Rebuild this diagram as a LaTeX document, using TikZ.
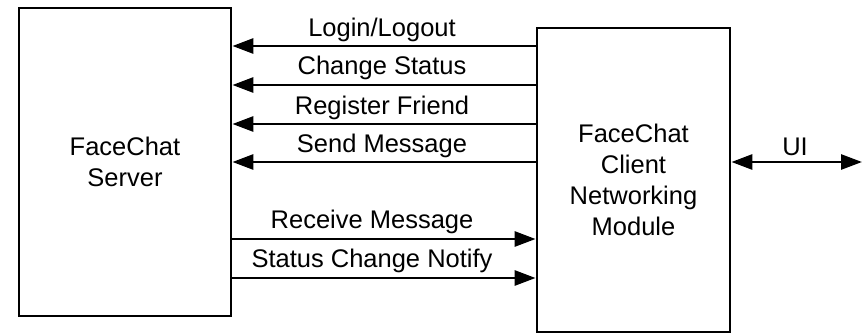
\documentclass[tikz,border=0pt]{standalone}
\usepackage{fontspec}
\setmainfont{Liberation Sans}
\usetikzlibrary{arrows.meta}
\begin{document}
\begin{tikzpicture}[x=1pt,y=-1pt,
  box/.style={draw, line width=2.8pt, inner sep=0pt, align=center, font=\fontsize{25.5}{31}\selectfont},
  conn/.style={line width=2.8pt, -{Triangle[length=21pt,width=15pt]}},
  biconn/.style={line width=2.8pt, {Triangle[length=21pt,width=15pt]}-{Triangle[length=21pt,width=15pt]}},
  lbl/.style={font=\fontsize{25.5}{31}\selectfont, anchor=base, inner sep=0pt}]
\useasboundingbox (0,0) rectangle (867,334);
\node[box, minimum width=212pt, minimum height=308pt] (srv) at (125,162) {FaceChat\\Server};
\node[box, minimum width=193pt, minimum height=304pt] (cli) at (633.5,180) {FaceChat\\Client\\Networking\\Module};
\coordinate (ui) at (862,162);
% client -> server
\draw[conn] (cli.west |- 0,46) -- (srv.east |- 0,46);
\draw[conn] (cli.west |- 0,85) -- (srv.east |- 0,85);
\draw[conn] (cli.west |- 0,124) -- (srv.east |- 0,124);
\draw[conn] (cli.west |- 0,162) -- (srv.east |- 0,162);
% server -> client
\draw[conn] (srv.east |- 0,239) -- (cli.west |- 0,239);
\draw[conn] (srv.east |- 0,278) -- (cli.west |- 0,278);
% UI
\draw[biconn] (cli.east |- ui) -- (ui);
% labels
\node[lbl] (l1) at (382,37) {Login/Logout};
\node[lbl] (l2) at (382,75) {Change Status};
\node[lbl] (l3) at (382,114) {Register Friend};
\node[lbl] (l4) at (382,152) {Send Message};
\node[lbl] (l5) at (372,228) {Receive Message};
\node[lbl] (l6) at (372,267) {Status Change Notify};
\node[lbl] (l7) at (795,155) {UI};
\end{tikzpicture}
\end{document}
